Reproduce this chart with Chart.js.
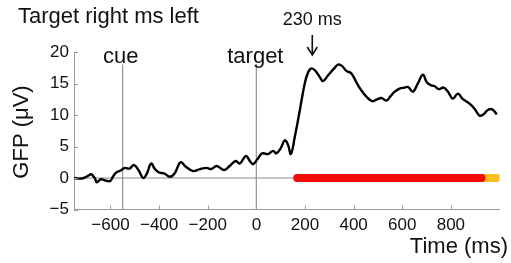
<!DOCTYPE html>
<html>
<head>
<meta charset="utf-8">
<script src="https://cdn.jsdelivr.net/npm/chart.js@4"></script>
<style>
html,body{margin:0;padding:0;background:#fff;}
canvas{display:block;}
</style>
</head>
<body>
<canvas id="c" width="511" height="263"></canvas>
<script>
// ---- data ----
const times = [-750,-730,-710,-690,-680,-665,-656,-640,-620,-602,-590,-577,-560,-540,-522,-503,-485,-465,-450,-433,-417,-399,-380,-355,-335,-312,-290,-260,-232,-205,-185,-163,-132,-110,-85,-68,-43,-25,-13,5,24,48,69,82,100,117,130,142,158,179,199,213,227,243,261,274,295,320,336,352,370,391,411,432,453,476,494,514,535,552,569,589,610,624,644,664,685,701,719,732,751,770,788,808,829,847,866,884,901,918,934,952,970,989];
const gfp = [0.0,-0.1,0.0,0.4,0.6,0.0,-0.7,-0.2,-0.4,-0.5,0.2,0.85,1.15,1.6,1.5,2.05,1.27,0.0,0.74,2.3,1.4,0.85,0.74,0.2,0.8,2.5,1.8,1.1,1.4,1.6,1.42,1.9,1.27,1.9,2.7,2.3,3.5,2.6,2.2,3.0,3.9,3.8,4.3,3.9,4.7,6.0,5.3,3.8,6.5,10.8,15.0,16.8,17.4,17.0,16.0,15.4,16.3,17.4,18.0,17.8,17.0,16.6,15.2,13.9,12.9,12.2,12.45,12.7,12.3,13.0,13.7,14.2,14.35,14.45,13.7,15.0,16.4,15.2,14.7,14.6,14.1,14.35,13.7,12.6,13.4,12.6,12.1,11.55,10.8,9.9,10.1,10.8,10.9,10.1];
const xTicks = [-600,-400,-200,0,200,400,600,800];
const yTicks = [-5,0,5,10,15,20];
const xRange = [-750, 1000];
const yRange = [-5, 20];
const cueTime = -550;
const targetTime = 0;
const markerTop = 18;
const sigRed = [168, 926];
const sigYellow = [926, 990];
const peakTime = 230;

const FONT = '"Liberation Sans", Arial, Helvetica, sans-serif';
const GRAY = '#9a9a9a';

const fmt = v => (v < 0 ? '\u2212' + Math.abs(v) : String(v));

const annot = {
  id: 'annot',
  afterDraw(chart) {
    const ctx = chart.ctx;
    const xs = chart.scales.x, ys = chart.scales.y;
    ctx.save();
    // inward ticks
    ctx.strokeStyle = GRAY; ctx.lineWidth = 1;
    const yb = ys.getPixelForValue(yRange[0]);
    const xl = xs.getPixelForValue(xRange[0]);
    xTicks.forEach(v => {
      const px = Math.round(xs.getPixelForValue(v)) + 0.5;
      ctx.beginPath(); ctx.moveTo(px, yb); ctx.lineTo(px, yb - 4); ctx.stroke();
    });
    yTicks.forEach(v => {
      const py = Math.round(ys.getPixelForValue(v)) + 0.5;
      ctx.beginPath(); ctx.moveTo(xl, py); ctx.lineTo(xl + 4, py); ctx.stroke();
    });
    ctx.fillStyle = '#111';
    ctx.textBaseline = 'alphabetic';
    // title
    ctx.font = '22px ' + FONT;
    ctx.textAlign = 'left';
    ctx.fillText('Target right ms left', 18, 23);
    // cue / target
    ctx.textAlign = 'center';
    ctx.fillText('cue', xs.getPixelForValue(cueTime) - 2, 63);
    ctx.fillText('target', xs.getPixelForValue(targetTime) - 1, 63);
    // x title
    ctx.textAlign = 'right';
    ctx.fillText('Time (ms)', 508, 253);
    // y title
    ctx.save();
    ctx.translate(28, 132);
    ctx.rotate(-Math.PI / 2);
    ctx.textAlign = 'center';
    ctx.fillText('GFP (\u03BCV)', 0, 0);
    ctx.restore();
    // 230 ms
    const pk = xs.getPixelForValue(peakTime);
    ctx.font = '18px ' + FONT;
    ctx.textAlign = 'center';
    ctx.fillText(peakTime + ' ms', pk, 25);
    // arrow
    ctx.strokeStyle = '#111'; ctx.lineWidth = 1.6;
    ctx.beginPath(); ctx.moveTo(pk, 35); ctx.lineTo(pk, 54); ctx.stroke();
    ctx.beginPath(); ctx.moveTo(pk - 5, 47); ctx.lineTo(pk, 55); ctx.lineTo(pk + 5, 47); ctx.stroke();
    ctx.restore();
  }
};

const curve = times.map((t, i) => ({x: t, y: gfp[i]}));

new Chart(document.getElementById('c'), {
  type: 'line',
  data: {
    datasets: [
      {data: curve, borderColor: '#000', borderWidth: 2.4, pointRadius: 0, tension: 0.4, order: 0},
      {data: [{x: sigRed[0], y: 0}, {x: sigRed[1], y: 0}], borderColor: '#f50a0a', borderWidth: 8, borderCapStyle: 'round', pointRadius: 0, order: 1},
      {data: [{x: sigYellow[0], y: 0}, {x: sigYellow[1], y: 0}], borderColor: '#fcbd1c', borderWidth: 8, borderCapStyle: 'round', pointRadius: 0, order: 2},
      {data: [{x: xRange[0], y: 0}, {x: xRange[1], y: 0}], borderColor: '#8a8a8a', borderWidth: 1, pointRadius: 0, order: 3},
      {data: [{x: cueTime, y: yRange[0]}, {x: cueTime, y: markerTop}], borderColor: GRAY, borderWidth: 1.3, pointRadius: 0, order: 3},
      {data: [{x: targetTime, y: yRange[0]}, {x: targetTime, y: markerTop}], borderColor: GRAY, borderWidth: 1.3, pointRadius: 0, order: 3}
    ]
  },
  options: {
    responsive: false,
    animation: false,
    devicePixelRatio: 1,
    layout: {padding: {top: 52, right: 11.5, left: 0, bottom: 0}},
    plugins: {legend: {display: false}, tooltip: {enabled: false}, title: {display: false}},
    scales: {
      x: {
        type: 'linear', min: xRange[0], max: xRange[1],
        afterFit: s => { s.height = 53.5; },
        afterBuildTicks: s => { s.ticks = xTicks.map(v => ({value: v})); },
        grid: {drawOnChartArea: false, drawTicks: false},
        border: {color: GRAY, width: 1},
        ticks: {color: '#111', font: {family: FONT, size: 17}, padding: 6, maxRotation: 0, autoSkip: false, callback: v => fmt(v)}
      },
      y: {
        type: 'linear', min: yRange[0], max: yRange[1],
        afterFit: s => { s.width = 74; },
        afterBuildTicks: s => { s.ticks = yTicks.map(v => ({value: v})); },
        grid: {drawOnChartArea: false, drawTicks: false},
        border: {color: GRAY, width: 1},
        ticks: {color: '#111', font: {family: FONT, size: 17}, padding: 5, autoSkip: false, callback: v => fmt(v)}
      }
    }
  },
  plugins: [annot]
});
</script>
</body>
</html>
